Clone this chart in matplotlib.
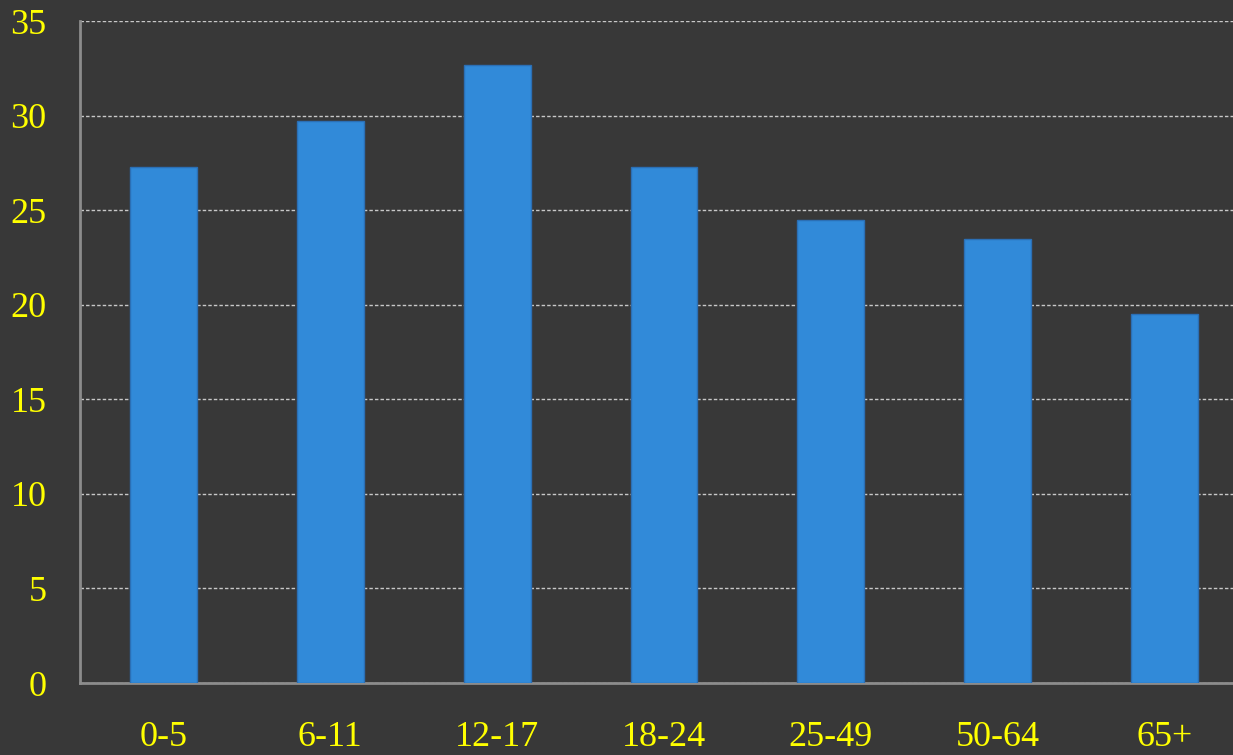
import matplotlib
matplotlib.use("Agg")

import matplotlib.pyplot as plt

categories = ["0-5", "6-11", "12-17", "18-24", "25-49", "50-64", "65+"]
values = [27.3, 29.7, 32.7, 27.3, 24.5, 23.5, 19.5]
yticks = [0, 5, 10, 15, 20, 25, 30, 35]

bg = "#383838"
fig = plt.figure(figsize=(12.33, 7.55), dpi=100, facecolor=bg)
ax = fig.add_axes([80 / 1233, 1 - 683 / 755, 1 - 80 / 1233, (683 - 21) / 755])
ax.set_facecolor(bg)

x = list(range(len(categories)))
ax.bar(x, values, width=0.4, color="#318ad9", edgecolor="#2b6fb5", linewidth=1, zorder=3)

ax.set_ylim(0, 35)
ax.set_xlim(-0.5, 6.41)
ax.set_yticks(yticks)
ax.set_xticks(x)
ax.set_xticklabels(categories)
ax.grid(axis="y", color="#c8c8c8", linestyle=(0, (2.5, 1.5)), linewidth=1, zorder=1)

for s in ["top", "right"]:
    ax.spines[s].set_visible(False)
for s in ["left", "bottom"]:
    ax.spines[s].set_color("#8c8c8c")
    ax.spines[s].set_linewidth(2)

ax.tick_params(axis="both", length=0, colors="#ffff00", labelsize=26)
ax.tick_params(axis="x", pad=27)
ax.tick_params(axis="y", pad=24)
for lbl in ax.get_xticklabels() + ax.get_yticklabels():
    lbl.set_fontfamily("Liberation Serif")

plt.savefig("out.png", dpi=100, facecolor=bg)
plt.close()
